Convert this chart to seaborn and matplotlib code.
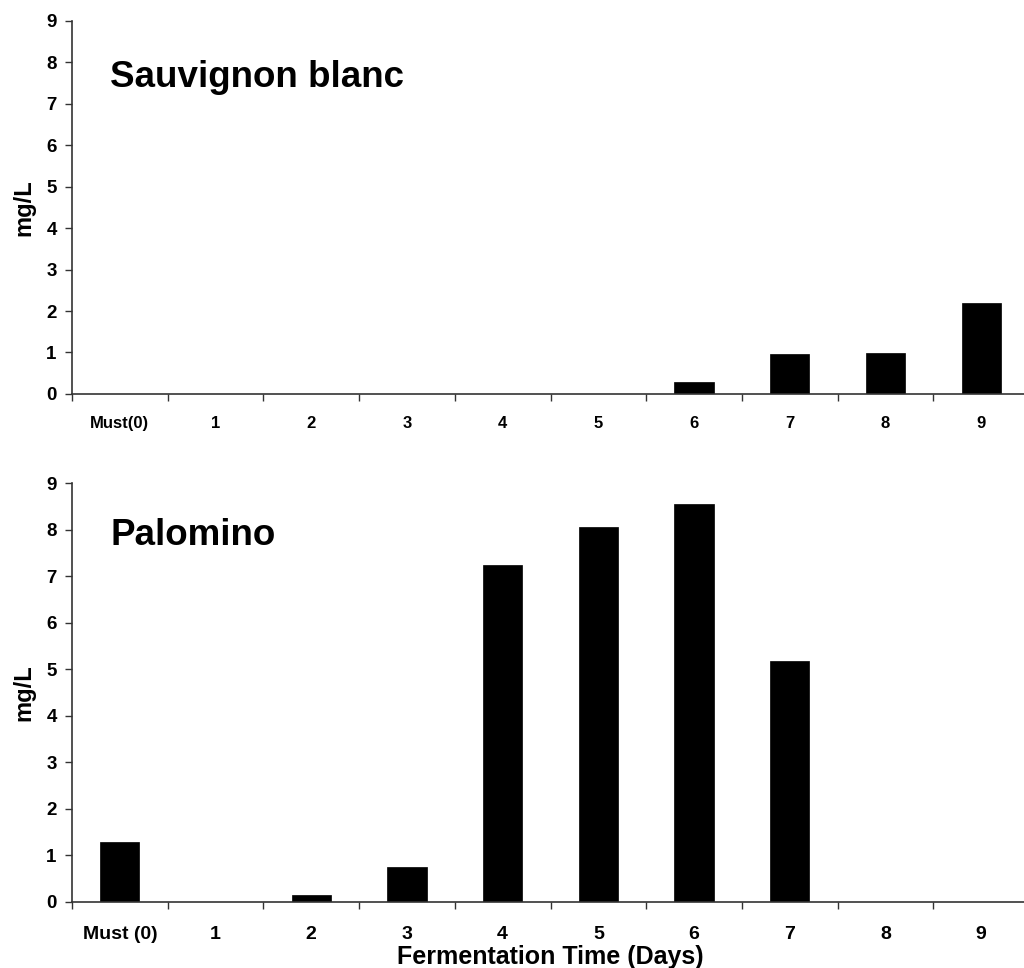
import numpy as np
import pandas as pd
import matplotlib
matplotlib.use("Agg")
import matplotlib.pyplot as plt
import seaborn as sns

# Data
top_labels = ["Must(0)", "1", "2", "3", "4", "5", "6", "7", "8", "9"]
bottom_labels = ["Must (0)", "1", "2", "3", "4", "5", "6", "7", "8", "9"]
sauvignon_mgL = [0, 0, 0, 0, 0, 0, 0.29, 0.97, 0.98, 2.19]
palomino_mgL = [1.28, 0, 0.16, 0.75, 7.25, 8.06, 8.55, 5.18, 0, 0]

sns.set_theme(style="ticks")
plt.rcParams["font.family"] = ["Liberation Sans", "DejaVu Sans"]
plt.rcParams["font.weight"] = "bold"
plt.rcParams["text.color"] = "black"
plt.rcParams["axes.labelcolor"] = "black"
plt.rcParams["xtick.labelcolor"] = "black"
plt.rcParams["ytick.labelcolor"] = "black"

fig = plt.figure(figsize=(10.24, 9.68), dpi=100)
ax_top = fig.add_axes([0.0703, 0.593, 0.9346, 0.3857])
ax_bot = fig.add_axes([0.0703, 0.0682, 0.9346, 0.4325])


def draw_panel(ax, labels, values, title, tick_size, tick_pad, title_y):
    df = pd.DataFrame({"day": labels, "mgL": values})
    sns.barplot(data=df, x="day", y="mgL", color="black", width=0.41,
                saturation=1, ax=ax, edgecolor="black", linewidth=0.5)
    ax.set_xlim(-0.5, len(labels) - 0.5)
    ax.set_ylim(0, 9)
    ax.set_yticks(range(0, 10))
    ax.set_yticklabels([str(v) for v in range(0, 10)], fontsize=13.5,
                       fontweight="bold")
    ax.set_xticks(range(len(labels)))
    ax.set_xticklabels(labels, fontsize=tick_size, fontweight="bold")
    ax.set_xticks(np.arange(-0.5, len(labels), 1.0), minor=True)
    ax.tick_params(axis="x", which="major", length=0, pad=tick_pad)
    ax.tick_params(axis="x", which="minor", length=5, width=1,
                   direction="out", color="#333333")
    ax.tick_params(axis="y", length=5, width=1, color="#333333", pad=6)
    ax.set_ylabel("mg/L", fontsize=17, fontweight="bold", labelpad=8)
    ax.set_xlabel("")
    for side in ["top", "right"]:
        ax.spines[side].set_visible(False)
    for side in ["left", "bottom"]:
        ax.spines[side].set_color("#333333")
        ax.spines[side].set_linewidth(1.2)
    ax.text(0.04, title_y, title, transform=ax.transAxes, fontsize=26.5,
            fontweight="bold", va="baseline", ha="left")


draw_panel(ax_top, top_labels, sauvignon_mgL, "Sauvignon blanc", 12, 16, 0.822)
draw_panel(ax_bot, bottom_labels, palomino_mgL, "Palomino", 14, 17, 0.853)
ax_bot.set_xlabel("Fermentation Time (Days)", fontsize=18, fontweight="bold",
                  labelpad=2)

fig.savefig("out.png", dpi=100)
